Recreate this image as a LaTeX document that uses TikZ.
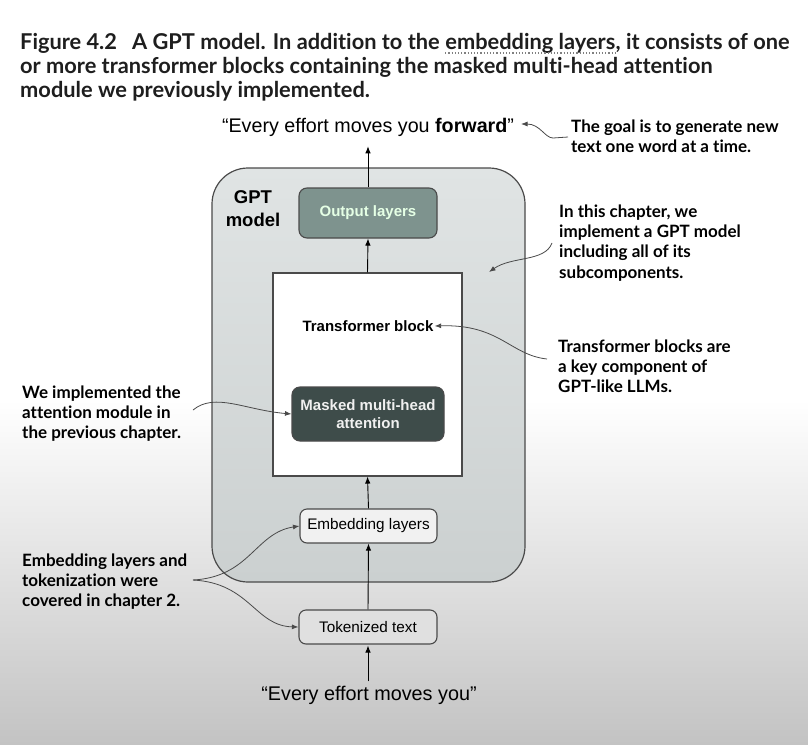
\documentclass[tikz,border=0pt]{standalone}
\usepackage{fontspec}
\setmainfont{Liberation Sans}
\newfontfamily\capfont[Ligatures={NoCommon}]{Lato}
\newfontfamily\notefont[Ligatures={NoCommon}]{Lato}
\usetikzlibrary{arrows.meta}
\definecolor{outfill}{HTML}{7E938E}
\definecolor{attfill}{HTML}{3E4C4A}
\definecolor{embfill}{HTML}{F1F1F1}
\definecolor{edgec}{HTML}{4A4A4A}
\definecolor{gptTop}{HTML}{E0E4E4}
\definecolor{gptBot}{HTML}{CBD0D0}
\definecolor{bgBot}{HTML}{C3C3C3}
\definecolor{captxt}{HTML}{1E1E1E}
\tikzset{
  arr/.style={draw=black, line width=0.9pt, -{Latex[length=7pt,width=5.5pt]}},
  ann/.style={draw=edgec, line width=0.8pt, -{Latex[length=6.5pt,width=5pt]}},
  boxbase/.style={draw=edgec, line width=1.1pt, rounded corners=8pt, inner sep=0pt},
  note/.style={anchor=north west, inner sep=0pt, align=left, text=black,
     font=\notefont\bfseries\fontsize{17}{20.3}\selectfont},
  captline/.style={anchor=base west, inner sep=0pt, text=captxt,
     font=\capfont\bfseries\fontsize{21.8}{24}\selectfont},
}
\begin{document}
\begin{tikzpicture}[x=1pt,y=-1pt]
\useasboundingbox (0,0) rectangle (808,744);
% background
\fill[white] (0,0) rectangle (808,400);
\shade[top color=white, bottom color=bgBot] (0,399.5) rectangle (808,744);
% caption
\node[captline] (cap1a) at (20,49) {Figure 4.2\hspace{0.45em} A GPT model. In addition to the\ \null};
\node[captline] (cap1b) at (cap1a.base east) {embedding layers};
\node[captline] (cap1c) at (cap1b.base east) {, it consists of one};
\draw[gray, line width=1.2pt, dotted] ([yshift=-4pt]cap1b.base west) -- ([yshift=-4pt]cap1b.base east);
\node[captline] (cap2) at (20,73) {or more transformer blocks containing the masked multi-head attention};
\node[captline] (cap3) at (20,97) {module we previously implemented.};
% GPT model box
\shade[top color=gptTop, bottom color=gptBot, draw=edgec, line width=1.2pt, rounded corners=36pt]
  (212,168) rectangle (525,582);
\node[font=\bfseries\fontsize{18.5}{23}\selectfont, align=center, inner sep=0pt, anchor=base] (gptlbl) at (253,226) {GPT\\model};
% transformer block
\node[draw=edgec, line width=1.1pt, fill=white, minimum width=189pt, minimum height=203pt, inner sep=0pt] (tb) at (367.5,374.5) {};
\node[font=\bfseries\fontsize{15}{17}\selectfont, inner sep=1pt] (tblbl) at (368,326) {Transformer block};
% boxes
\node[boxbase, fill=outfill, minimum width=138pt, minimum height=50pt, text=white!90!green,
      font=\bfseries\fontsize{15}{17}\selectfont] (out) at (368,213) {Output layers};
\node[boxbase, fill=attfill, minimum width=152pt, minimum height=54pt, text=white!94!black, align=center,
      font=\bfseries\fontsize{15}{17.5}\selectfont] (att) at (368,414) {Masked multi-head\\attention};
\node[boxbase, fill=embfill, minimum width=137pt, minimum height=34pt, rounded corners=7pt,
      font=\fontsize{15.3}{17}\selectfont] (emb) at (368.5,526) {Embedding layers};
\node[boxbase, fill=embfill!85!gray, minimum width=138pt, minimum height=34pt, rounded corners=7pt,
      font=\fontsize{15.3}{17}\selectfont] (tok) at (368,627) {Tokenized text};
% texts
\node[font=\fontsize{19.7}{24}\selectfont, inner sep=0pt, anchor=base] (toptxt) at (368,132) {“Every effort moves you \textbf{forward}”};
\node[font=\fontsize{19.8}{24}\selectfont, inner sep=0pt, anchor=base] (bottxt) at (369,700) {“Every effort moves you”};
% main arrows
\draw[arr, shorten >=10pt] (out.north) -- (out.north |- toptxt.south);
\draw[arr] (tb.north) -- (out.south);
\draw[arr] (emb.north) -- (tb.south);
\draw[arr] (tok.north) -- (emb.south);
\draw[arr, shorten <=4pt, shorten >=1pt] (tok.south |- bottxt.north) -- (tok.south);
% notes
\node[note] (ngoal) at (571,119.5) {The goal is to generate new\\text one word at a time.};
\node[note] (nchap) at (559,204.5) {In this chapter, we\\implement a GPT model\\including all of its\\subcomponents.};
\node[note] (ntb) at (558,339.5) {Transformer blocks are\\a key component of\\GPT-like LLMs.};
\node[note] (natt) at (22,385.5) {We implemented the\\attention module in\\the previous chapter.};
\node[note] (nemb) at (22,553.5) {Embedding layers and\\tokenization were\\covered in chapter 2.};
% annotation connectors
\coordinate (cgoal) at (568,137);
\coordinate (gtip) at (521,124);
\draw[ann] (cgoal) -- (553,138) .. controls (545,138) and (540,124) .. (gtip);
\coordinate (cchap) at (552,243);
\coordinate (chtip) at (489,272);
\draw[ann] (cchap) .. controls (545,262) and (512,256) .. (chtip);
\coordinate (ctb) at (547,359);
\draw[ann] (ctb) .. controls (510,355) and (500,324) .. (tblbl.east);
\coordinate (catt) at (193,410);
\draw[ann] (catt) .. controls (215,392) and (245,410) .. (att.west);
\coordinate (cemb) at (193,580);
\draw[ann] (cemb) .. controls (250,577) and (255,533) .. (emb.west);
\draw[ann] (cemb) .. controls (250,583) and (255,626) .. (tok.west);
\end{tikzpicture}
\end{document}
